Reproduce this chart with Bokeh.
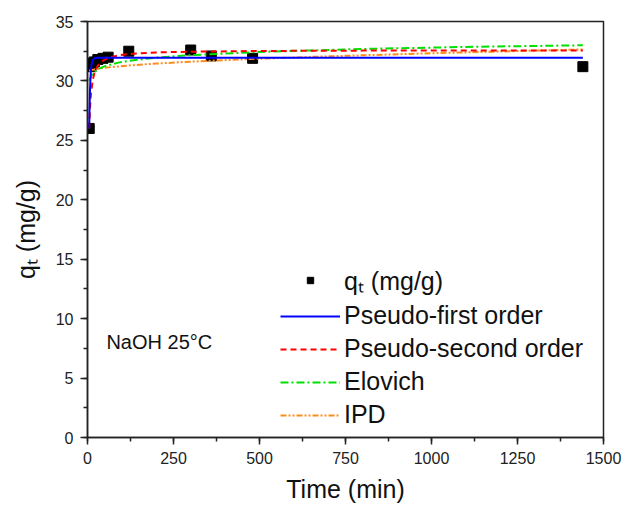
from bokeh.plotting import figure
from bokeh.models import Range1d, SingleIntervalTicker, Legend, LegendItem, Label
from bokeh.embed import file_html
from bokeh.resources import INLINE

# experimental data
time_min = [5, 10, 15, 20, 30, 45, 60, 120, 300, 360, 480, 1440]
qt = [26.0, 31.2, 31.5, 31.6, 31.8, 31.9, 32.0, 32.5, 32.6, 32.1, 31.9, 31.2]

# model curves
pfo_t = [5, 6, 7, 8, 10, 12, 15, 20, 30, 60, 1440]
pfo_q = [26.0, 27.8, 29.0, 29.8, 30.9, 31.4, 31.75, 31.9, 31.95, 31.95, 31.95]

pso_t = [5, 7, 10, 15, 20, 30, 45, 60, 90, 120, 200, 300, 500, 800, 1440]
pso_q = [26.0, 27.6, 28.9, 30.05, 30.66, 31.3, 31.7, 31.93, 32.15, 32.26, 32.4, 32.46, 32.52, 32.55, 32.57]

elo_t = [5, 10, 15, 20, 30, 45, 60, 90, 120, 200, 300, 500, 800, 1100, 1440]
elo_q = [30.0, 30.39, 30.6, 30.75, 30.97, 31.18, 31.33, 31.54, 31.69, 31.96, 32.17, 32.44, 32.69, 32.86, 33.0]

ipd_t = [5, 10, 20, 30, 60, 120, 200, 300, 480, 700, 1000, 1440]
ipd_q = [30.86, 30.91, 30.97, 31.02, 31.14, 31.30, 31.46, 31.62, 31.85, 32.07, 32.33, 32.65]

x_ticks = [0, 250, 500, 750, 1000, 1250, 1500]
y_ticks = [0, 5, 10, 15, 20, 25, 30, 35]

FONT = "Liberation Sans"

p = figure(width=637, height=508, output_backend="svg", toolbar_location=None,
           x_range=Range1d(0, 1500), y_range=Range1d(0, 35),
           min_border_left=87, min_border_right=34, min_border_top=21, min_border_bottom=71)
p.background_fill_color = "white"
p.border_fill_color = "white"
p.outline_line_color = "#222222"
p.outline_line_width = 1.5
p.xgrid.visible = False
p.ygrid.visible = False

p.xaxis.ticker = SingleIntervalTicker(interval=250, num_minor_ticks=2)
p.yaxis.ticker = SingleIntervalTicker(interval=5, num_minor_ticks=2)
for ax in (p.xaxis[0], p.yaxis[0]):
    ax.axis_line_color = "#222222"
    ax.axis_line_width = 1.5
    ax.major_tick_line_color = "#222222"
    ax.minor_tick_line_color = "#222222"
    ax.major_tick_line_width = 1.5
    ax.minor_tick_line_width = 1.5
    ax.major_tick_in = 0
    ax.major_tick_out = 7
    ax.minor_tick_in = 0
    ax.minor_tick_out = 4
    ax.major_label_text_font = FONT
    ax.major_label_text_font_size = "16px"
    ax.major_label_text_color = "#222222"
    ax.axis_label_text_font = FONT
    ax.axis_label_text_font_size = "25px"
    ax.axis_label_text_font_style = "normal"
    ax.axis_label_text_color = "#111111"

p.xaxis.axis_label = "Time (min)"
p.yaxis.axis_label = "q\u209c (mg/g)"
p.xaxis.major_label_standoff = 7
p.xaxis.axis_label_standoff = 8
p.yaxis.major_label_standoff = 7
p.yaxis.axis_label_standoff = 13

r_pts = p.scatter(time_min, qt, marker="square", size=10, color="black")
r_ipd = p.line(ipd_t, ipd_q, line_color="#FF8C1A", line_width=2, line_dash="6 2 2 2 2 2")
r_elo = p.line(elo_t, elo_q, line_color="#00E000", line_width=2, line_dash="8 3 2 3")
r_pso = p.line(pso_t, pso_q, line_color="#FF0000", line_width=2, line_dash="6 4")
r_pfo = p.line(pfo_t, pfo_q, line_color="#0000FF", line_width=2)

legend = Legend(items=[
    LegendItem(label="q\u209c (mg/g)", renderers=[r_pts]),
    LegendItem(label="Pseudo-first order", renderers=[r_pfo]),
    LegendItem(label="Pseudo-second order", renderers=[r_pso]),
    LegendItem(label="Elovich", renderers=[r_elo]),
    LegendItem(label="IPD", renderers=[r_ipd]),
], location=(193, 8))
legend.label_text_font = FONT
legend.label_text_font_size = "25px"
legend.label_text_color = "#111111"
legend.glyph_width = 60
legend.glyph_height = 16
legend.label_height = 28
legend.spacing = 4
legend.padding = 0
legend.margin = 0
legend.label_standoff = 4
legend.border_line_alpha = 0
legend.background_fill_alpha = 0
p.add_layout(legend)

p.add_layout(Label(x=55, y=8.0, text="NaOH 25°C", text_font=FONT, text_font_size="20px",
                   text_align="left", text_baseline="middle", text_color="#111111"))
p.add_layout(Label(x=-238, y=-1.3, text="0", text_font=FONT, text_font_size="16px",
                   text_align="center", text_baseline="middle", text_color="#222222"))

open("out.html", "w").write(file_html(p, INLINE))
